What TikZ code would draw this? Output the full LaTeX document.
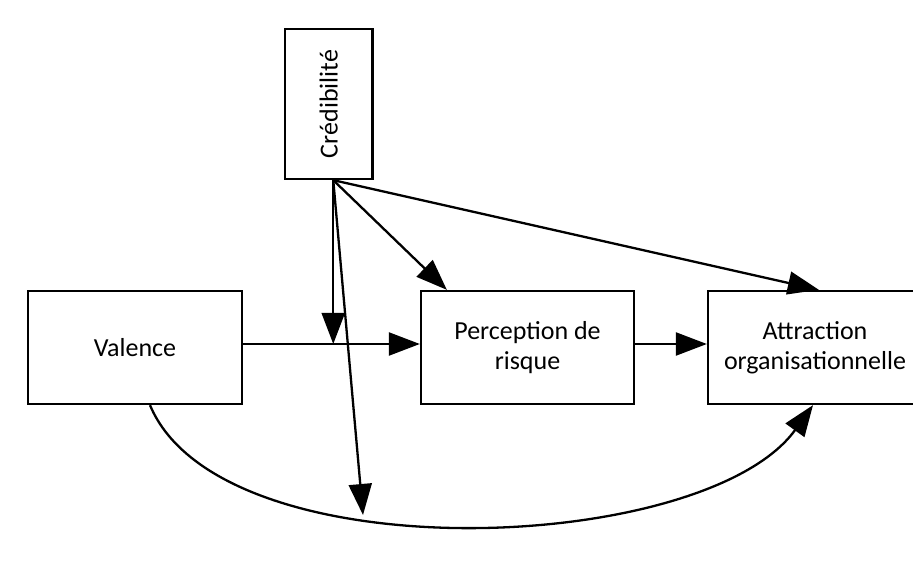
\documentclass[tikz,border=0pt]{standalone}
\usepackage{fontspec}
\setmainfont{Carlito}
\usetikzlibrary{arrows.meta,calc}
\begin{document}
\begin{tikzpicture}[x=1pt,y=-1pt,
  box/.style={draw,line width=2.3pt,inner sep=0pt,align=center,
    font=\fontsize{26}{30.5}\selectfont},
  arr/.style={line width=2.3pt,-{Triangle[length=31pt,width=23pt]}}]
\useasboundingbox[fill=white] (0,0) rectangle (913,569);

% boxes
\node[box,minimum width=87.5pt,minimum height=150pt] (cred) at (328.75,104)
  {\rotatebox{90}{Crédibilité}};
\node[box,minimum width=214pt,minimum height=113pt] (val) at (135,347.5) {Valence};
\node[box,minimum width=213pt,minimum height=113pt] (perc) at (527.5,347.5)
  {Perception de\\risque};
\node[box,minimum width=214pt,minimum height=113pt] (attr) at (815,347.5)
  {Attraction\\organisationnelle};

% anchor points for the connectors
\coordinate (src) at ($(cred.south)+(4.5,0)$);
\coordinate (vin) at ($(val.east)+(0,-3.5)$);
\coordinate (pin) at ($(perc.west)+(0,-3.5)$);
\coordinate (mod) at ($(src)!(vin)!(src |- 0,600)$);
\coordinate (ptop) at ($(perc.north west)+(27,0)$);
\coordinate (atop) at ($(attr.north west)+(112,0)$);
\coordinate (curvept) at (363,515);
\coordinate (aout) at ($(perc.east)+(0,-3.5)$);
\coordinate (ain) at ($(attr.west)+(0,-3.5)$);

% connectors
\draw[arr] (vin) -- (pin);
\draw[arr] (aout) -- (ain);
\draw[arr] (src) -- (mod);
\draw[arr] (src) -- (ptop);
\draw[arr] (src) -- (atop);
\draw[arr] ([xshift=15pt]val.south) .. controls (221,575) and (705,555) .. ([xshift=-2pt]attr.south);
\draw[arr] (src) -- (curvept);
\end{tikzpicture}
\end{document}
